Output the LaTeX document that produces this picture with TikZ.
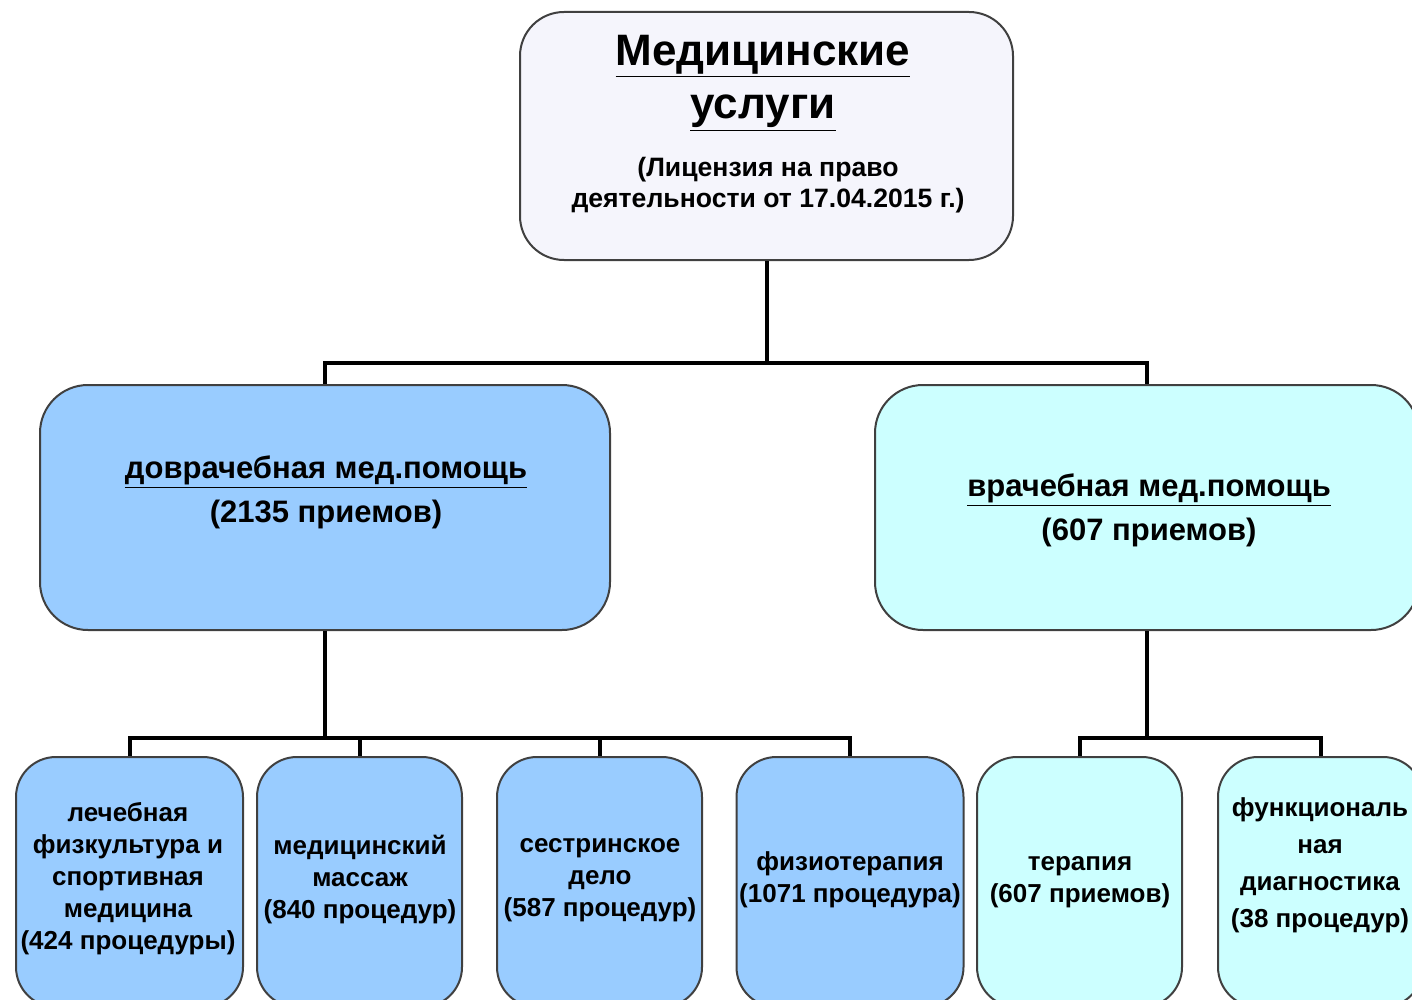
\documentclass[tikz,border=0pt]{standalone}
\usepackage{fontspec}
\setmainfont{Liberation Sans}
\begin{document}
\begin{tikzpicture}[x=0.5pt,y=-0.5pt,
  box/.style={draw=black!75, line width=1pt, rounded corners=20pt, inner sep=0pt},
  blue/.style={box, fill=boxblue},
  cyan/.style={box, fill=boxcyan},
  small/.style={minimum width=102.5pt, minimum height=125pt},
  wide/.style={minimum width=113.5pt, minimum height=125pt},
  txt/.style={align=center, font=\bfseries\fontsize{13}{16}\selectfont, inner sep=0pt},
  mid/.style={align=center, font=\bfseries\fontsize{15.5}{22}\selectfont, inner sep=0pt},
  link/.style={line width=2pt, black}]
\definecolor{boxblue}{HTML}{99CCFF}
\definecolor{boxcyan}{HTML}{CCFFFF}
\definecolor{boxtop}{HTML}{F5F5FC}
\useasboundingbox (0,0) rectangle (1412,1000);
\clip (0,0) rectangle (1412,1000);
\fill[white] (0,0) rectangle (1412,1000);

% boxes
\node[box, fill=boxtop, rounded corners=22pt, minimum width=246.5pt, minimum height=124pt] (top) at (766.5,136) {};
\node[blue, rounded corners=24pt, minimum width=285pt, minimum height=122.5pt] (left) at (325,507.5) {};
\node[cyan, rounded corners=24pt, minimum width=272pt, minimum height=122.5pt] (right) at (1147,507.5) {};

\node[blue, wide]  (b1) at (129.5,882) {};
\node[blue, small] (b2) at (359.5,882) {};
\node[blue, small] (b3) at (599.5,882) {};
\node[blue, wide]  (b4) at (850,882) {};
\node[cyan, small] (b5) at (1079.5,882) {};
\node[cyan, small] (b6) at (1320.5,882) {};

% junctions
\coordinate (j0) at (766.5,363);
\coordinate (j1) at (325,738);
\coordinate (j2) at (1147,738);

% connectors
\draw[link] (top.south) -- (j0);
\draw[link] (j0) -| (left.north);
\draw[link] (j0) -| (right.north);
\draw[link] (left.south) -- (j1);
\draw[link] (j1) -| (b1.north);
\draw[link] (j1) -| (b2.north);
\draw[link] (j1) -| (b3.north);
\draw[link] (j1) -| (b4.north);
\draw[link] (right.south) -- (j2);
\draw[link] (j2) -| (b5.north);
\draw[link] (j2) -| (b6.north);

% texts
\node[align=center, inner sep=0pt, font=\bfseries\fontsize{22}{26.5}\selectfont] (ttitle) at (763,83) {\underline{Медицинские}\\\underline{услуги}};
\node[align=center, inner sep=0pt, font=\bfseries\fontsize{13.3}{15.5}\selectfont] (tlic) at (768,185) {(Лицензия на право\\деятельности от 17.04.2015 г.)};

\node[mid] (tleft) at (326,492) {\underline{доврачебная мед.помощь}\\(2135 приемов)};
\node[mid] (tright) at (1149,510) {\underline{врачебная мед.помощь}\\(607 приемов)};

\node[txt] (t1) at (128,879) {лечебная\\физкультура и\\спортивная\\медицина\\(424 процедуры)};
\node[txt] (t2) at (360,880) {медицинский\\массаж\\(840 процедур)};
\node[txt] (t3) at (600,880) {сестринское\\дело\\(587 процедур)};
\node[txt] (t4) at (850,880) {физиотерапия\\(1071 процедура)};
\node[txt] (t5) at (1080,882) {терапия\\(607 приемов)};
\node[txt, font=\bfseries\fontsize{13}{18.5}\selectfont] (t6) at (1320,865) {функциональ\\ная\\диагностика\\(38 процедур)};
\end{tikzpicture}
\end{document}
